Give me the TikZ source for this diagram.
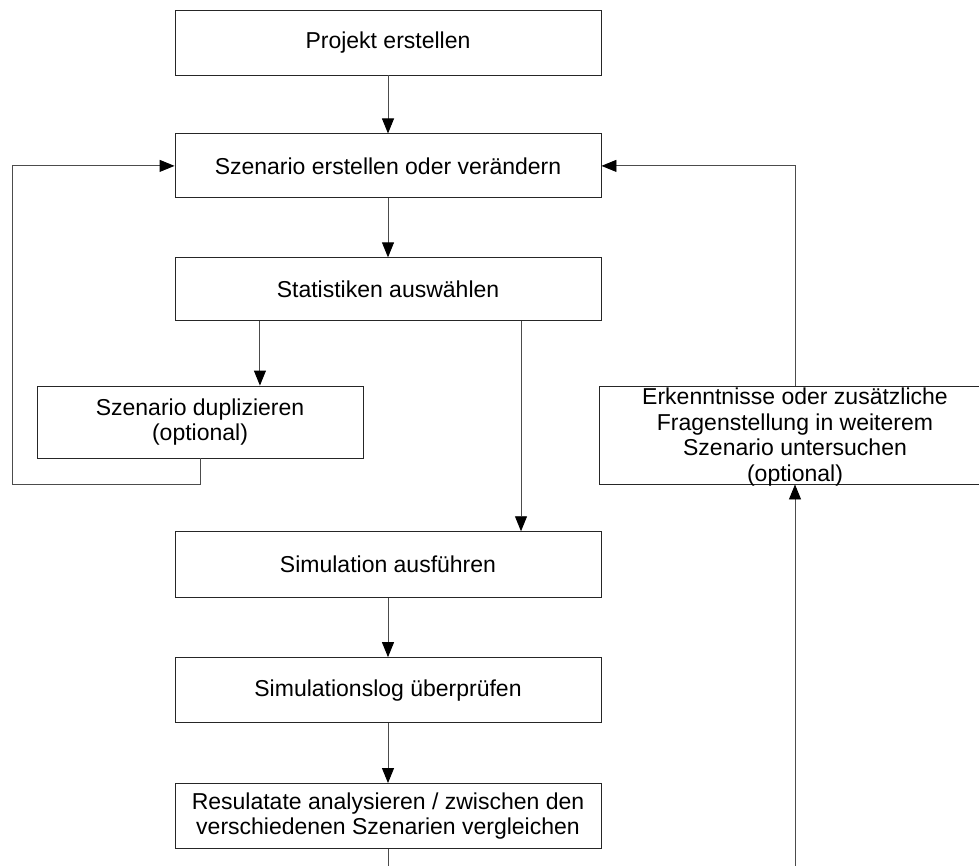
\documentclass[tikz,border=0pt]{standalone}
\usepackage{fontspec}
\setmainfont{Liberation Sans}
\usetikzlibrary{arrows.meta, positioning, calc}

\begin{document}
\begin{tikzpicture}[x=1pt, y=-1pt, node distance=59pt,
    flowbox/.style={draw=black!85, line width=0.9pt, rectangle, minimum width=426pt, minimum height=64pt, inner sep=0pt, align=center, font=\fontsize{23}{25.7}\selectfont},
    flowarrow/.style={draw=black!70, line width=0.9pt, -{Triangle[length=15pt, width=12pt, color=black]}},
    flowline/.style={draw=black!70, line width=0.9pt}]
    \useasboundingbox (0,0) rectangle (979,866);

    % Steps
    \node[flowbox, minimum height=65pt] (projekt) at (388,42.5) {Projekt erstellen};
    \node[flowbox, below=58pt of projekt] (szenario) {Szenario erstellen oder verändern};
    \node[flowbox, minimum height=63pt, below=of szenario] (statistik) {Statistiken auswählen};
    \node[flowbox, minimum width=326pt, minimum height=72pt] (duplikat) at (200,422) {Szenario duplizieren\\(optional)};
    \node[flowbox, minimum width=392pt, minimum height=98pt] (erkenntnis) at (795,435) {};
    \node[align=center, inner sep=0pt, font=\fontsize{23}{25.7}\selectfont] (erkenntnistext) at ([yshift=-2pt]erkenntnis.center) {Erkenntnisse oder zusätzliche\\Fragenstellung in weiterem\\Szenario untersuchen\\(optional)};
    \node[flowbox, minimum height=66pt, below=210pt of statistik] (simulation) {Simulation ausführen};
    \node[flowbox, minimum height=65pt, below=of simulation] (simlog) {Simulationslog überprüfen};
    \node[flowbox, minimum height=65pt, below=60pt of simlog] (resultate) {Resulatate analysieren / zwischen den\\verschiedenen Szenarien vergleichen};

    % Main flow
    \draw[flowarrow] (projekt) -- (szenario);
    \draw[flowarrow] (szenario) -- (statistik);
    \draw[flowarrow] ($(statistik.south west)!0.2!(statistik.south east)$) coordinate (stat2dup) -- (stat2dup |- duplikat.north);
    \draw[flowarrow] ([xshift=133pt]statistik.south) coordinate (stat2sim) -- (stat2sim |- simulation.north);
    \draw[flowarrow] (simulation) -- (simlog);
    \draw[flowarrow] (simlog) -- (resultate);

    % Loops back
    \coordinate (loopL) at (12,484);
    \draw[flowarrow] (duplikat.south) |- (loopL) |- (szenario.west);
    \draw[flowarrow] (erkenntnis.north) |- (szenario.east);

    % Open ends at the bottom
    \coordinate (bottomL) at (388,866);
    \coordinate (bottomR) at (795,866);
    \draw[flowline] (resultate.south) -- (bottomL);
    \draw[flowarrow] (bottomR) -- (erkenntnis.south);
\end{tikzpicture}
\end{document}
